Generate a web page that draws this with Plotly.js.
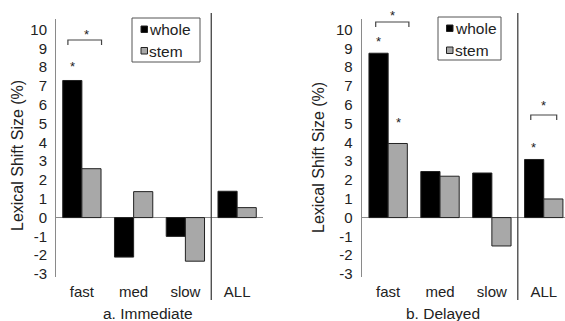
<!DOCTYPE html>
<html>
<head>
<meta charset="utf-8">
<script src="https://cdn.plot.ly/plotly-3.0.1.min.js"></script>
<style>html,body{margin:0;padding:0;background:#fff;}#chart{width:565px;height:321px;}</style>
</head>
<body>
<div id="chart"></div>
<script>
// ---- data ----
var categories = ['fast', 'med', 'slow', 'ALL'];
var seriesNames = ['whole', 'stem'];
var immediateWhole = [7.29, -2.1, -1.0, 1.4];
var immediateStem = [2.6, 1.38, -2.32, 0.53];
var delayedWhole = [8.74, 2.45, 2.37, 3.09];
var delayedStem = [3.94, 2.2, -1.51, 0.99];
var yTickVals = [-3, -2, -1, 0, 1, 2, 3, 4, 5, 6, 7, 8, 9, 10];
var yTickText = ['-3', '-2', '-1', '0', '1', '2', '3', '4', '5', '6', '7', '8', '9', '10'];
var yTitle = 'Lexical Shift Size (%)';
var panelTitles = ['a. Immediate', 'b. Delayed'];

// ---- geometry helpers (pixels -> paper) ----
var W = 565, H = 321, T = 19, B = 44;
var PH = H - T - B;
function px(x) { return x / W; }
function py(y) { return (H - B - y) / PH; }

var FONT = '"Liberation Sans", Arial, sans-serif';
var TXT = '#222';
var colWhole = '#000000', colStem = '#a8a8a8', edge = '#222';

function bar(y, name, color, xa, ya) {
  return {type: 'bar', x: categories, y: y, name: name, xaxis: xa, yaxis: ya,
    marker: {color: color, line: {color: edge, width: 1}}, showlegend: false,
    hoverinfo: 'skip'};
}
var data = [
  bar(immediateWhole, seriesNames[0], colWhole, 'x', 'y'),
  bar(immediateStem, seriesNames[1], colStem, 'x', 'y'),
  bar(delayedWhole, seriesNames[0], colWhole, 'x2', 'y2'),
  bar(delayedStem, seriesNames[1], colStem, 'x2', 'y2')
];

function xax(domain, range, anchor) {
  return {domain: domain, range: range, type: 'category', anchor: anchor,
    showline: false, ticks: '', showgrid: false, zeroline: false, fixedrange: true,
    tickfont: {family: FONT, size: 15, color: TXT}, ticklabelstandoff: 4};
}
function yax(anchor) {
  return {domain: [0, 1], range: [-3.16, 10.56], anchor: anchor,
    tickmode: 'array', tickvals: yTickVals, ticktext: yTickText,
    showline: true, linecolor: '#8a8a8a', linewidth: 1, ticks: '', showgrid: false,
    zeroline: true, zerolinecolor: '#8a8a8a', zerolinewidth: 1, fixedrange: true,
    tickfont: {family: FONT, size: 15, color: TXT}, ticklabelstandoff: 5};
}

var shapes = [];
var annotations = [];

// separators
['x', 'x2'].forEach(function (xr) {
  shapes.push({type: 'line', xref: xr, yref: 'paper', x0: 2.5, x1: 2.5,
    y0: py(300), y1: py(13), line: {color: '#333', width: 1.2}});
});

// brackets
function bracket(xr, x0, x1, yTop, yBot) {
  shapes.push({type: 'path', xref: xr, yref: 'paper',
    path: 'M ' + x0 + ' ' + yBot + ' L ' + x0 + ' ' + yTop + ' L ' + x1 + ' ' + yTop + ' L ' + x1 + ' ' + yBot,
    line: {color: '#444', width: 1.2}});
}
bracket('x', -0.27, 0.38, py(40), py(45));
bracket('x2', -0.24, 0.40, py(22), py(27));
bracket('x2', 2.75, 3.25, py(115), py(120));

function star(xr, x, yPix) {
  annotations.push({xref: xr, yref: 'paper', x: x, y: py(yPix), text: '*', showarrow: false,
    font: {family: FONT, size: 13, color: TXT}, xanchor: 'center', yanchor: 'middle', yshift: -3});
}
star('x', 0.08, 32);
star('x', -0.18, 63);
star('x2', 0.09, 13);
star('x2', -0.18, 38);
star('x2', 0.19, 119);
star('x2', 3.0, 102);
star('x2', 2.81, 144);

// y-axis titles
[[17, 156], [318, 158]].forEach(function (p) {
  annotations.push({xref: 'paper', yref: 'paper', x: px(p[0]), y: py(p[1]), text: yTitle,
    textangle: -90, showarrow: false, xanchor: 'center', yanchor: 'middle',
    font: {family: FONT, size: 16, color: TXT}});
});
// panel titles
[[148, 313], [443, 313]].forEach(function (p, i) {
  annotations.push({xref: 'paper', yref: 'paper', x: px(p[0]), y: py(p[1]), text: panelTitles[i],
    showarrow: false, xanchor: 'center', yanchor: 'middle',
    font: {family: FONT, size: 15.5, color: TXT}});
});

// legends (box, swatches, labels)
function legend(bx0, by0, bx1, by1, sqx, sqy1, sqy2, tx) {
  shapes.push({type: 'rect', xref: 'paper', yref: 'paper', x0: px(bx0), x1: px(bx1), y0: py(by1), y1: py(by0),
    line: {color: '#555', width: 1}, fillcolor: '#fff'});
  [[sqy1, colWhole], [sqy2, colStem]].forEach(function (s) {
    shapes.push({type: 'rect', xref: 'paper', yref: 'paper', x0: px(sqx), x1: px(sqx + 6.5),
      y0: py(s[0] + 6.5), y1: py(s[0]), line: {color: edge, width: 1}, fillcolor: s[1]});
  });
  [[sqy1 + 3.5, seriesNames[0]], [sqy2 + 3.5, seriesNames[1]]].forEach(function (s) {
    annotations.push({xref: 'paper', yref: 'paper', x: px(tx), y: py(s[0]), text: s[1],
      showarrow: false, xanchor: 'left', yanchor: 'middle',
      font: {family: FONT, size: 15.5, color: TXT}});
  });
}
legend(132, 18, 200, 62, 141, 26, 47.5, 147);
legend(438, 17, 501, 60, 446.5, 25, 47, 453);

var layout = {
  width: W, height: H,
  margin: {l: 0, r: 0, t: T, b: B, pad: 0},
  paper_bgcolor: '#fff', plot_bgcolor: 'rgba(0,0,0,0)',
  barmode: 'group', bargap: 0.26, bargroupgap: 0,
  showlegend: false,
  font: {family: FONT, color: TXT},
  xaxis: xax([56 / W, 263 / W], [-0.5, 3.5], 'y'),
  yaxis: yax('x'),
  xaxis2: xax([361.7 / W, 1], [-0.51, 3.41], 'y2'),
  yaxis2: yax('x2'),
  shapes: shapes,
  annotations: annotations
};

Plotly.newPlot('chart', data, layout, {displayModeBar: false, staticPlot: true});
</script>
</body>
</html>
